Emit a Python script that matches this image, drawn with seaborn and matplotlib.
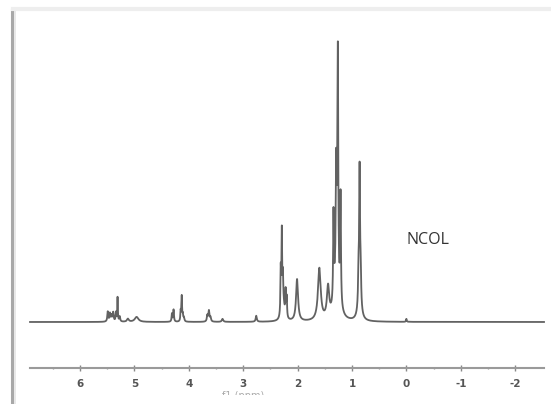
import numpy as np
import pandas as pd
import matplotlib
matplotlib.use("Agg")
import matplotlib.pyplot as plt
import seaborn as sns
from matplotlib.patches import Rectangle
from matplotlib.lines import Line2D

# ---- data (chemical shift ppm, peak height, half width) ----
peak_shift = [1.28, 1.34, 1.29, 1.26, 1.21,
              0.86, 0.88, 0.86, 0.84,
              1.60, 1.44, 2.01,
              2.31, 2.29, 2.27, 2.22, 2.20, 2.26,
              2.76, 3.38, 3.66, 3.63, 3.60,
              4.15, 4.13, 4.11, 4.09, 4.31, 4.28,
              5.49, 5.45, 5.42, 5.39, 5.34, 5.31, 5.27, 5.12, 4.96,
              0.00]
peak_height = [70, 86, 89, 214, 108,
               25, 28, 125, 28,
               52, 31, 42,
               45, 80, 30, 25, 20, 15,
               6, 3, 6, 11, 4,
               10, 25, 6, 4, 8, 12,
               10, 8, 6, 9, 9, 24, 5, 3, 5,
               3]
peak_hwhm = [0.04, 0.008, 0.008, 0.008, 0.008,
             0.03, 0.009, 0.009, 0.009,
             0.03, 0.025, 0.022,
             0.007, 0.007, 0.007, 0.007, 0.007, 0.03,
             0.012, 0.015, 0.01, 0.012, 0.01,
             0.007, 0.007, 0.007, 0.01, 0.008, 0.008,
             0.01, 0.01, 0.01, 0.01, 0.008, 0.006, 0.01, 0.02, 0.04,
             0.007]
tick_values = [6, 5, 4, 3, 2, 1, 0, -1, -2]
tick_labels = ["6", "5", "4", "3", "2", "1", "0", "-1", "-2"]
sample_label = "NCOL"
axis_label = "f1 (ppm)"
ppm_range = (6.92, -2.53)

W, H = 551, 404
fig = plt.figure(figsize=(W / 100, H / 100), dpi=100)
fig.patch.set_facecolor("white")


def frac(x0, y0, x1, y1):
    return [x0 / W, 1 - y1 / H, (x1 - x0) / W, (y1 - y0) / H]


# Lorentzian line shapes of the listed peaks
ppm = np.arange(ppm_range[1], ppm_range[0], 0.0005)
intensity = np.zeros_like(ppm)
for c, h, w in zip(peak_shift, peak_height, peak_hwhm):
    intensity += h * w ** 2 / ((ppm - c) ** 2 + w ** 2)
df = pd.DataFrame({"ppm": ppm, "intensity": intensity})

ax = fig.add_axes(frac(30, 44, 544, 322))
sns.lineplot(data=df, x="ppm", y="intensity", ax=ax, color="#626262",
             linewidth=1.3, estimator=None, sort=False, clip_on=False)
ax.set_xlim(*ppm_range)
ax.set_ylim(0, 278)
ax.axis("off")

fig.text(406 / W, 1 - 240 / H, sample_label, fontsize=11.5, color="#333333",
         family="Open Sans", va="center", ha="left")

# separate ppm scale
ax2 = fig.add_axes(frac(30, 358, 544, 368))
ax2.set_facecolor("none")
for s in ["top", "left", "right"]:
    ax2.spines[s].set_visible(False)
ax2.spines["bottom"].set_color("#9a9a9a")
ax2.spines["bottom"].set_linewidth(1.5)
ax2.set_xlim(*ppm_range)
ax2.set_yticks([])
ax2.set_xticks(tick_values)
ax2.set_xticklabels(tick_labels)
ax2.set_xticks([v + 0.5 for v in tick_values], minor=True)
ax2.tick_params(axis="x", which="major", direction="inout", length=4, width=1,
                color="#888888", labelsize=7.5, labelcolor="#555555", pad=6)
ax2.tick_params(axis="x", which="minor", direction="inout", length=2, width=1,
                color="#999999")
for t in ax2.get_xticklabels():
    t.set_fontweight("bold")

fig.text(243 / W, 1 - 391 / H, axis_label, fontsize=7, color="#aaaaaa",
         ha="center", va="top")
fig.add_artist(Rectangle((150 / W, 0), 200 / W, (404 - 394.5) / H,
                         transform=fig.transFigure, facecolor="white",
                         edgecolor="none", zorder=10))

# page frame remnants
fig.add_artist(Line2D([12 / W, 12 / W], [0, 1 - 10 / H], transform=fig.transFigure,
                      color="#a8a8a8", linewidth=2.2))
fig.add_artist(Line2D([14.5 / W, 14.5 / W], [0, 1 - 11 / H], transform=fig.transFigure,
                      color="#e4e4e4", linewidth=1.2))
fig.add_artist(Line2D([13 / W, 1], [1 - 9 / H, 1 - 9 / H], transform=fig.transFigure,
                      color="#eeeeee", linewidth=3))

fig.savefig("out.png", dpi=100, facecolor="white")
